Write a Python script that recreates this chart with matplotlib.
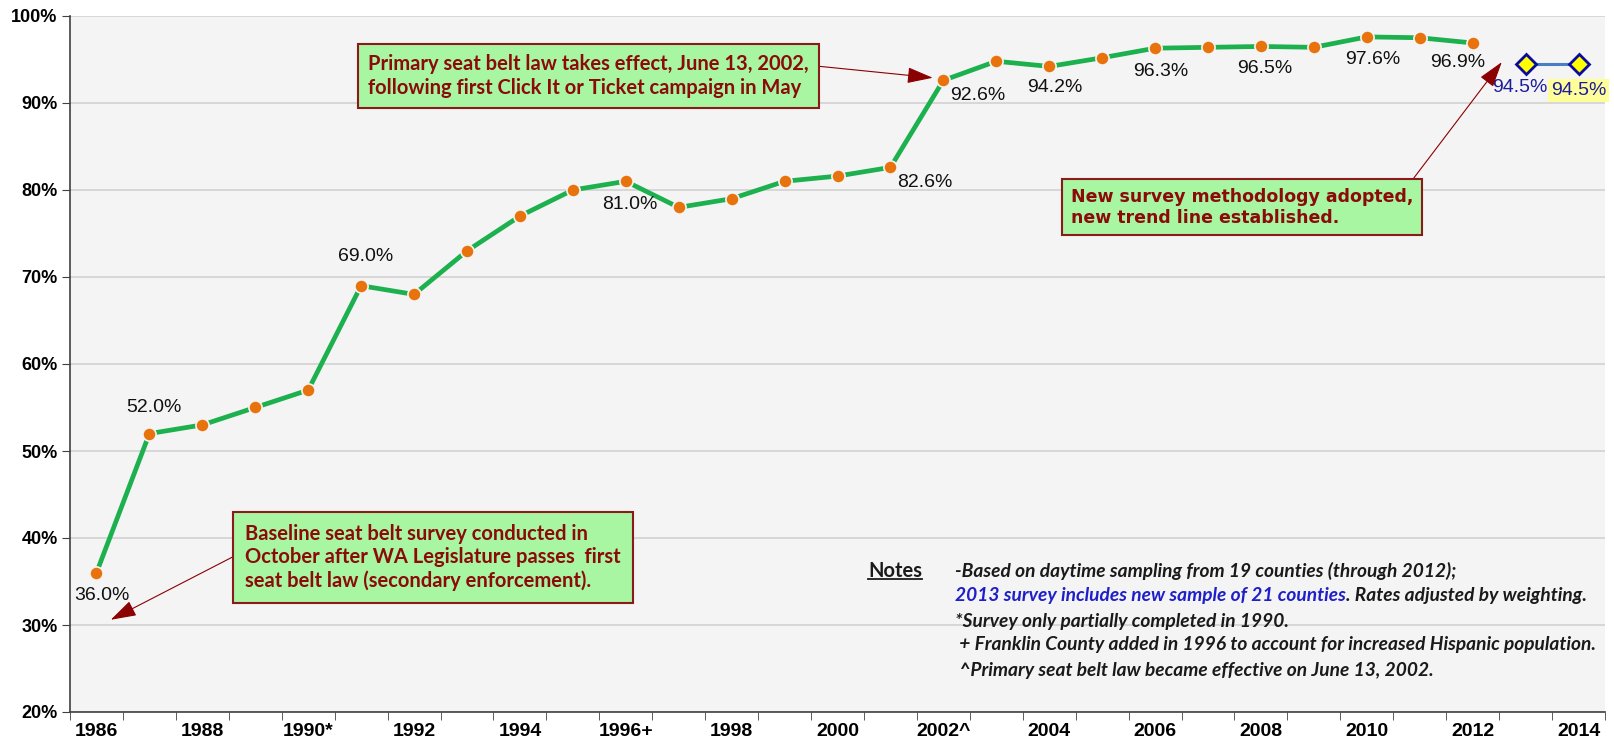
"""Washington seat belt use rate, 1986-2014.
"""
import numpy as np
import matplotlib
matplotlib.use("Agg")
import matplotlib.pyplot as plt
from matplotlib.lines import Line2D


#### Data.
years = list(range(1986, 2015))
tick_labels = ["1986", "", "1988", "", "1990*", "", "1992", "", "1994", "", "1996+", "",
               "1998", "", "2000", "", "2002^", "", "2004", "", "2006", "", "2008", "",
               "2010", "", "2012", "", "2014"]
rates_old = [36.0, 52.0, 53.0, 55.0, 57.0, 69.0, 68.0, 73.0, 77.0, 80.0, 81.0, 78.0, 79.0,
             81.0, 81.6, 82.6, 92.6, 94.8, 94.2, 95.2, 96.3, 96.4, 96.5, 96.4, 97.6, 97.5, 96.9]
years_new = [2013, 2014]
rates_new = [94.5, 94.5]

#### Parameters.
ARIAL = ["Liberation Sans", "DejaVu Sans"]
CALIBRI = ["Lato", "DejaVu Sans"]
BG = "#F4F4F4"
TXT_RED = "#8B0A0A"
BOX_KW = dict(boxstyle="square,pad=0.5", fc="#A8F5A2", ec="#8B1A1A", lw=1.5)
ARROW_KW = dict(arrowstyle="-|>,head_length=0.8,head_width=0.25", color="#8B0000",
                lw=0.8, mutation_scale=20, shrinkA=0, shrinkB=0)

x_old = np.array([years.index(y) for y in years[:len(rates_old)]])
x_new = np.array([years.index(y) for y in years_new])

#### Figure.
fig = plt.figure(figsize=(16.14, 7.43), dpi=100)
ax = fig.add_axes([70/1614, 31/743, 1535/1614, 696/743])
ax.set_facecolor(BG)

# lines
ax.plot(x_old, rates_old, color="#1DB04E", lw=3.4, marker="o", ms=9.5,
        mfc="#E8730C", mec=BG, mew=1.2, zorder=3)
ax.plot(x_new, rates_new, color="#4A7EC4", lw=2.2, marker="D", ms=10,
        mfc="#FFFF00", mec="#0A0A9C", mew=2, zorder=3)

# axes
ax.set_xlim(-0.5, len(years) - 0.5)
ax.set_ylim(20, 100)
ax.set_yticks(np.arange(20, 101, 10))
ax.set_yticklabels([f"{v}%" for v in range(20, 101, 10)], fontsize=13,
                   fontweight="bold", family=ARIAL)
ax.set_xticks(np.arange(len(years)))
ax.set_xticklabels(tick_labels, fontsize=14, fontweight="bold", family=ARIAL)
ax.set_xticks(np.arange(-0.5, len(years)), minor=True)
ax.tick_params(axis="x", which="major", length=0, pad=8)
ax.tick_params(axis="x", which="minor", length=6, direction="out", color="#404040")
ax.tick_params(axis="y", length=6, direction="out", color="#404040", pad=3)
ax.grid(True, axis="y", color="#D2D2D2", lw=1.2, zorder=0)
ax.set_axisbelow(True)
ax.spines[["top", "right"]].set_visible(False)
ax.spines[["left", "bottom"]].set_color("#404040")
ax.spines[["left", "bottom"]].set_linewidth(1.2)

#### Data labels.
label_offsets = {0: (4, -16), 1: (3, 19), 5: (3, 21), 10: (3, -17), 15: (25, -11),
                 16: (25, -11), 18: (4, -15), 20: (4, -16.5), 22: (3, -16),
                 24: (4, -16), 26: (-11, -14)}
LABEL_KW = dict(textcoords="offset points", ha="center", va="center",
                fontsize=14, family=ARIAL)
for i, (dx, dy) in label_offsets.items():
    ax.annotate(f"{rates_old[i]:.1f}%", (x_old[i], rates_old[i]), xytext=(dx, dy),
                color="#111111", **LABEL_KW)
ax.annotate(f"{rates_new[0]:.1f}%", (x_new[0], rates_new[0]), xytext=(-4, -17),
            color="#1C1C9C", **LABEL_KW)
ax.annotate(f"{rates_new[1]:.1f}%", (x_new[1], rates_new[1]), xytext=(0, -19),
            color="#1C1C9C", bbox=dict(boxstyle="square,pad=0.15", fc="#FFFF99", ec="none"),
            **LABEL_KW)

#### Call-out boxes.
ax.annotate("Primary seat belt law takes effect, June 13, 2002,\n"
            "following first Click It or Ticket campaign in May",
            xy=(15.8, 92.9), xytext=(9.29, 93.1), ha="center", va="center",
            multialignment="left", fontsize=14.5, fontweight="bold", family=CALIBRI,
            color=TXT_RED, bbox=BOX_KW, arrowprops=dict(relpos=(1.0, 0.75), **ARROW_KW))
ax.annotate("New survey methodology adopted,\nnew trend line established.",
            xy=(26.55, 94.7), xytext=(21.64, 78.0), ha="center", va="center",
            multialignment="left", fontsize=12.5, fontweight="bold", family=["DejaVu Sans"],
            color=TXT_RED, bbox=BOX_KW, arrowprops=dict(relpos=(0.98, 1.0), **ARROW_KW))
ax.annotate("Baseline seat belt survey conducted in\n"
            "October after WA Legislature passes  first\n"
            "seat belt law (secondary enforcement).",
            xy=(0.27, 30.6), xytext=(6.36, 37.8), ha="center", va="center",
            multialignment="left", fontsize=14.5, fontweight="bold", family=CALIBRI,
            color=TXT_RED, bbox={**BOX_KW, "boxstyle": "square,pad=0.6"},
            arrowprops=dict(relpos=(0.0, 0.6), **ARROW_KW))

#### Notes.
notes_title = ax.text(0.52, 0.194, "Notes", transform=ax.transAxes, ha="left",
                      va="baseline", fontsize=14.5, fontweight="bold", family=CALIBRI,
                      color="#1A1A1A")
NOTE_KW = dict(ha="left", fontsize=13.8, style="italic", fontweight="bold",
               family=CALIBRI)
ax.text(0.5765, 0.2026, "-Based on daytime sampling from 19 counties (through 2012);",
        transform=ax.transAxes, va="center", color="#1A1A1A", **NOTE_KW)
blue = ax.text(0.5765, 0.1667, "2013 survey includes new sample of 21 counties",
               transform=ax.transAxes, va="center", color="#1F1FC8", **NOTE_KW)
ax.annotate(". Rates adjusted by weighting.", xy=(1, 0), xycoords=blue, va="bottom",
            color="#1A1A1A", **NOTE_KW)
ax.text(0.5765, 0.1307, "*Survey only partially completed in 1990.",
        transform=ax.transAxes, va="center", color="#1A1A1A", **NOTE_KW)
ax.text(0.5765, 0.0963, " + Franklin County added in 1996 to account for increased Hispanic population.",
        transform=ax.transAxes, va="center", color="#1A1A1A", **NOTE_KW)
ax.text(0.5765, 0.0603, " ^Primary seat belt law became effective on June 13, 2002.",
        transform=ax.transAxes, va="center", color="#1A1A1A", **NOTE_KW)

# underline the "Notes" title
fig.canvas.draw()
bb = notes_title.get_window_extent()
fx0, fx1 = bb.x0 / fig.bbox.width, bb.x1 / fig.bbox.width
fy = (bb.y0 + 2) / fig.bbox.height
fig.add_artist(Line2D([fx0, fx1], [fy, fy], transform=fig.transFigure,
                      color="#1A1A1A", lw=1.3))

#### Export.
fig.savefig("out.png", dpi=100, facecolor="white")
plt.close(fig)
